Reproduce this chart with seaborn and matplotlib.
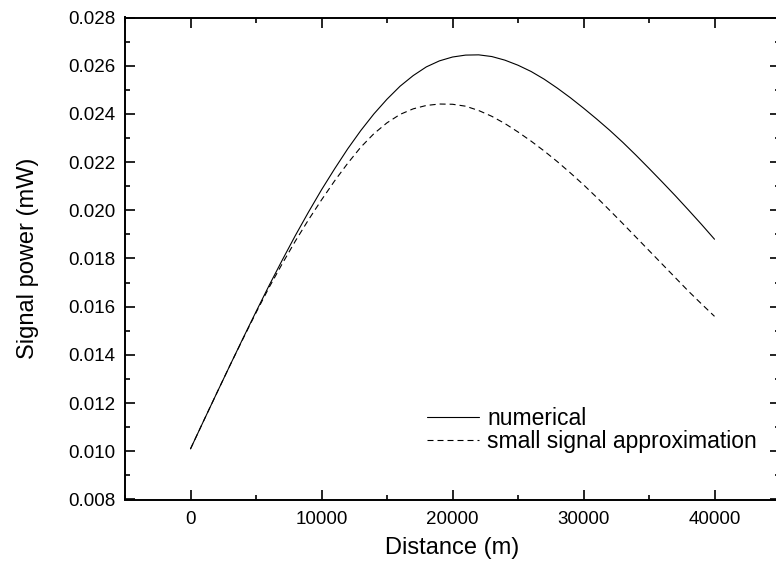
import matplotlib
matplotlib.use("Agg")
import matplotlib.pyplot as plt
from matplotlib.ticker import MultipleLocator, FormatStrFormatter
import seaborn as sns
import pandas as pd

distance = [0, 1000, 2000, 3000, 4000, 5000, 6000, 7000, 8000, 9000, 10000,
            11000, 12000, 13000, 14000, 15000, 16000, 17000, 18000, 19000, 20000,
            21000, 22000, 23000, 24000, 25000, 26000, 27000, 28000, 29000, 30000,
            31000, 32000, 33000, 34000, 35000, 36000, 37000, 38000, 39000, 40000]
numerical = [0.01010, 0.01126, 0.01241, 0.01355, 0.01468, 0.01579, 0.01688, 0.01793,
             0.01895, 0.01992, 0.02085, 0.02172, 0.02255, 0.02331, 0.02400, 0.02461,
             0.02515, 0.02559, 0.02595, 0.02620, 0.02636, 0.02644, 0.02645, 0.02638,
             0.02623, 0.02602, 0.02576, 0.02544, 0.02507, 0.02467, 0.02424, 0.02379,
             0.02332, 0.02282, 0.02229, 0.02174, 0.02118, 0.02061, 0.02002, 0.01942,
             0.01880]
small_signal = [0.01010, 0.01126, 0.01241, 0.01355, 0.01466, 0.01575, 0.01680, 0.01778,
                0.01872, 0.01960, 0.02043, 0.02122, 0.02195, 0.02262, 0.02318, 0.02363,
                0.02398, 0.02421, 0.02435, 0.02441, 0.02440, 0.02432, 0.02414, 0.02390,
                0.02360, 0.02325, 0.02287, 0.02246, 0.02202, 0.02155, 0.02106, 0.02054,
                0.02000, 0.01945, 0.01889, 0.01833, 0.01777, 0.01721, 0.01665, 0.01612,
                0.01560]
labels = ["numerical", "small signal approximation"]

sns.set_style("ticks")
plt.rcParams["font.family"] = ["Liberation Sans", "DejaVu Sans"]
plt.rcParams["text.color"] = "black"
plt.rcParams["axes.labelcolor"] = "black"
plt.rcParams["xtick.color"] = "black"
plt.rcParams["ytick.color"] = "black"

fig = plt.figure(figsize=(7.76, 5.71), dpi=100)
ax = fig.add_axes([125 / 776, 1 - 499.5 / 571, 655 / 776, 482 / 571])

df = pd.DataFrame({"d": distance, "num": numerical, "ss": small_signal})
sns.lineplot(data=df, x="d", y="num", ax=ax, color="black", linewidth=0.8,
             label=labels[0])
sns.lineplot(data=df, x="d", y="ss", ax=ax, color="black", linewidth=0.8,
             linestyle=(0, (5.4, 3.6)), label=labels[1])

ax.set_xlim(-5000, 45000)
ax.set_ylim(0.008, 0.028)
ax.xaxis.set_major_locator(MultipleLocator(10000))
ax.xaxis.set_minor_locator(MultipleLocator(5000))
ax.yaxis.set_major_locator(MultipleLocator(0.002))
ax.yaxis.set_minor_locator(MultipleLocator(0.001))
ax.yaxis.set_major_formatter(FormatStrFormatter("%.3f"))

for s in ax.spines.values():
    s.set_visible(True)
    s.set_linewidth(1.4)
    s.set_color("black")

ax.tick_params(which="both", direction="in", top=True, right=True,
               width=1.2, color="black", labelsize=13.5, labelcolor="black")
ax.tick_params(which="major", length=7.2)
ax.tick_params(which="minor", length=3.4)
ax.tick_params(axis="x", which="major", pad=8)
ax.tick_params(axis="y", which="major", pad=7)

ax.set_xlabel("Distance (m)", fontsize=17, labelpad=7, color="black")
ax.set_ylabel("Signal power (mW)", fontsize=17, labelpad=21, color="black")

leg = ax.legend(loc="center left", bbox_to_anchor=(0.4606, 0.1448), frameon=False,
                fontsize=16.5, handlelength=2.27, handletextpad=0.37,
                labelspacing=0.0, borderpad=0, borderaxespad=0)
for t in leg.get_texts():
    t.set_color("black")

fig.savefig("out.png", dpi=100)
